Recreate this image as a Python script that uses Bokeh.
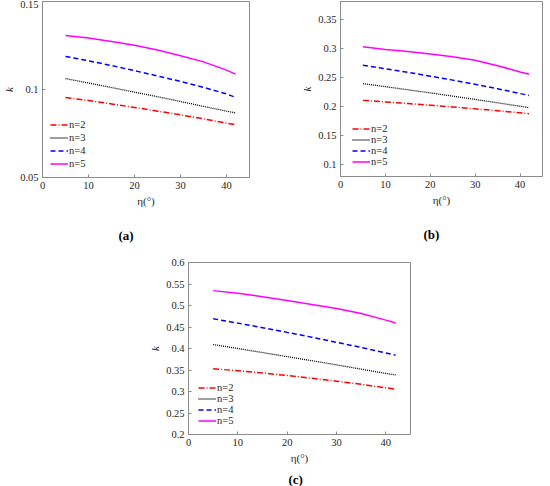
from bokeh.plotting import figure
from bokeh.models import (FixedTicker, CustomJSTickFormatter, Legend, LegendItem,
                          Title, Range1d, Spacer)
from bokeh.layouts import column, row
from bokeh.embed import file_html
from bokeh.resources import INLINE

# ---------------- data ----------------
eta = [5, 10, 15, 20, 25, 30, 35, 40, 42]

a_n2 = [0.0955, 0.0937, 0.0918, 0.0898, 0.0877, 0.0856, 0.0833, 0.0809, 0.0799]
a_n3 = [0.1062, 0.1037, 0.1011, 0.0985, 0.0959, 0.0932, 0.0904, 0.0877, 0.0867]
a_n4 = [0.1188, 0.1163, 0.1136, 0.1107, 0.1077, 0.1046, 0.1012, 0.0975, 0.0955]
a_n5 = [0.1307, 0.1292, 0.1273, 0.1252, 0.1224, 0.1192, 0.1157, 0.1110, 0.1087]

b_n2 = [0.2105, 0.2079, 0.2051, 0.2022, 0.1992, 0.1960, 0.1926, 0.1891, 0.1876]
b_n3 = [0.2391, 0.2340, 0.2287, 0.2233, 0.2178, 0.2121, 0.2063, 0.2004, 0.1980]
b_n4 = [0.2707, 0.2648, 0.2586, 0.2520, 0.2452, 0.2380, 0.2304, 0.2222, 0.2190]
b_n5 = [0.3023, 0.2977, 0.2942, 0.2902, 0.2852, 0.2793, 0.2700, 0.2592, 0.2552]

c_n2 = [0.3530, 0.3482, 0.3430, 0.3372, 0.3308, 0.3240, 0.3166, 0.3087, 0.3054]
c_n3 = [0.4092, 0.4000, 0.3906, 0.3811, 0.3716, 0.3619, 0.3520, 0.3421, 0.3385]
c_n4 = [0.4692, 0.4590, 0.4484, 0.4375, 0.4262, 0.4145, 0.4024, 0.3897, 0.3846]
c_n5 = [0.5346, 0.5285, 0.5205, 0.5115, 0.5025, 0.4930, 0.4815, 0.4660, 0.4592]

series_labels = ["n=2", "n=3", "n=4", "n=5"]
x_ticks = [0, 10, 20, 30, 40]
a_yticks = [0.05, 0.1, 0.15]
b_yticks = [0.1, 0.15, 0.2, 0.25, 0.3, 0.35]
c_yticks = [0.2, 0.25, 0.3, 0.35, 0.4, 0.45, 0.5, 0.55, 0.6]
x_label = "η(°)"
y_label = "k"

# ---------------- styling ----------------
FONT = "'Liberation Serif', 'Times New Roman', serif"
AXC = "#8c8c8c"
TXC = "#262626"
STYLES = [dict(line_color="#ff0000", line_dash="6 2 1 2", line_width=1.5),
          dict(line_color="#000000", line_dash="1 1", line_width=1.3),
          dict(line_color="#0000ff", line_dash="5 3", line_width=1.5),
          dict(line_color="#ff00ff", line_dash="solid", line_width=1.5)]

fmt = CustomJSTickFormatter(code="return Number(tick.toFixed(3)).toString();")


def style_axis(ax, ticks):
    ax.ticker = FixedTicker(ticks=ticks)
    ax.axis_line_color = AXC
    ax.major_tick_line_color = AXC
    ax.major_tick_in = 3
    ax.major_tick_out = 0
    ax.minor_tick_line_color = None
    ax.formatter = fmt
    ax.major_label_text_font = FONT
    ax.major_label_text_font_size = "10.5px"
    ax.major_label_text_color = TXC
    ax.major_label_standoff = 4
    ax.axis_label_text_font = FONT
    ax.axis_label_text_font_size = "11px"
    ax.axis_label_text_color = TXC


def panel(series, y0, y1, yticks, tag, fw, fh, top, tag_off, tag_standoff,
          leg_loc, leg_row):
    p = figure(frame_width=fw, frame_height=fh, title=None,
               x_range=Range1d(0, 45), y_range=Range1d(y0, y1),
               output_backend="svg", toolbar_location=None,
               min_border_top=top, min_border_left=34, min_border_right=1,
               min_border_bottom=0)
    p.grid.visible = False
    p.outline_line_color = AXC
    p.outline_line_alpha = 1
    p.background_fill_color = "white"
    p.border_fill_color = "white"

    p.xaxis.axis_label = x_label
    p.yaxis.axis_label = y_label
    style_axis(p.xaxis[0], x_ticks)
    style_axis(p.yaxis[0], yticks)
    p.xaxis[0].axis_label_standoff = 3
    p.yaxis[0].axis_label_standoff = 2
    p.yaxis[0].axis_label_text_font_style = "italic"
    p.xaxis[0].axis_label_text_font_style = "normal"

    items = []
    for lab, ys, st in zip(series_labels, series, STYLES):
        r = p.line(x=eta, y=ys, **st)
        items.append(LegendItem(label=lab, renderers=[r]))
    leg = Legend(items=items, location=leg_loc)
    leg.background_fill_alpha = 0
    leg.border_line_alpha = 0
    leg.label_text_font = FONT
    leg.label_text_font_size = "10.5px"
    leg.label_text_color = TXC
    leg.glyph_width = 18
    leg.glyph_height = leg_row
    leg.label_height = leg_row
    leg.label_standoff = 1
    leg.spacing = 0
    leg.padding = 0
    leg.margin = 0
    p.add_layout(leg)

    p.add_layout(Title(text=tag, align="left", offset=tag_off, standoff=tag_standoff,
                       text_font=FONT, text_font_style="bold", text_font_size="13px",
                       text_color="#000000"), "below")
    return p


pa = panel([a_n2, a_n3, a_n4, a_n5], 0.05, 0.15, a_yticks, "(a)",
           207, 176, 0, 76, 33, (8, 7), 13)
pb = panel([b_n2, b_n3, b_n4, b_n5], 0.08, 0.38, b_yticks, "(b)",
           202, 175, 1, 83, 33, (12, 9), 11)
pc = panel([c_n2, c_n3, c_n4, c_n5], 0.2, 0.6, c_yticks, "(c)",
           222, 172, 4, 100, 6, (10, 8), 11)

layout = column(row(pa, Spacer(width=48), pb), row(Spacer(width=146), pc))

open("out.html", "w").write(file_html(layout, INLINE))
